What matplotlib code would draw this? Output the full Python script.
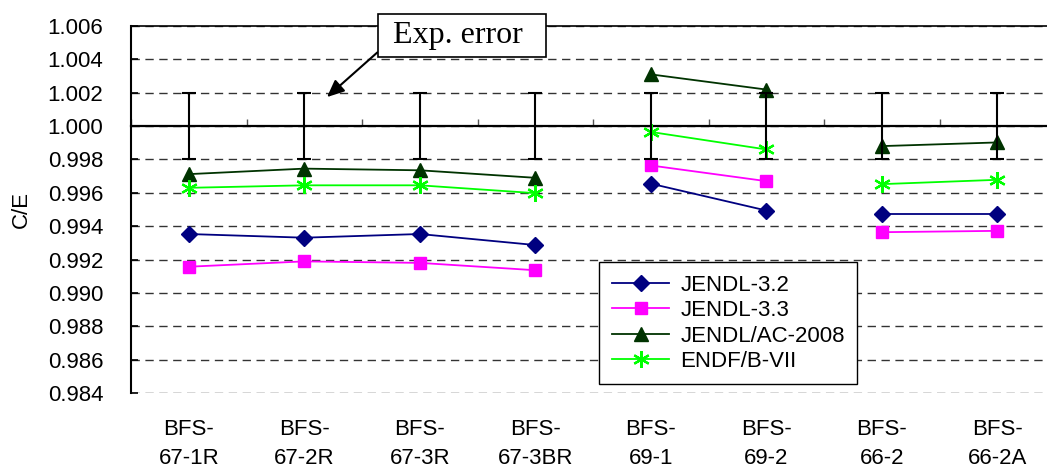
import numpy as np
import matplotlib.pyplot as plt

plt.rcParams['font.family'] = ['Liberation Sans', 'DejaVu Sans']

cases = ['BFS-\n67-1R', 'BFS-\n67-2R', 'BFS-\n67-3R', 'BFS-\n67-3BR',
         'BFS-\n69-1', 'BFS-\n69-2', 'BFS-\n66-2', 'BFS-\n66-2A']

# C/E values
jendl32 = [0.99353, 0.99331, 0.99353, 0.99287, 0.99655, 0.99494, 0.99472, 0.99472]
jendl33 = [0.99157, 0.99189, 0.99180, 0.99136, 0.99764, 0.99670, 0.99364, 0.99372]
jendlac = [0.99712, 0.99745, 0.99735, 0.99690, 1.00310, 1.00219, 0.99880, 0.99902]
endfb7 = [0.99630, 0.99645, 0.99645, 0.99598, 0.99965, 0.99860, 0.99652, 0.99678]

exp_value = [1.0] * 8
exp_err = [0.002] * 8

# the three groups of experiments are not joined
groups = [(0, 4), (4, 6), (6, 8)]

fig = plt.figure(figsize=(10.47, 4.71), dpi=100)
ax = fig.add_axes([131/1047, 1 - 393/471, 924/1047, 367/471])

x = np.arange(len(cases))

series = [
    ('JENDL-3.2', jendl32, dict(color='#000080', marker='D', ms=8)),
    ('JENDL-3.3', jendl33, dict(color='#FF00FF', marker='s', ms=8)),
    ('JENDL/AC-2008', jendlac, dict(color='#003300', marker='^', ms=10)),
    ('ENDF/B-VII', endfb7, dict(color='#00FF00', marker=(6, 2, 0), ms=12, mew=1.6)),
]
for name, vals, st in series:
    for k, (a, b) in enumerate(groups):
        ax.plot(x[a:b], vals[a:b], lw=1.3, label=name if k == 0 else None,
                zorder=3, **st)

# experimental uncertainty
ax.errorbar(x, exp_value, yerr=exp_err, fmt='none', ecolor='black',
            elinewidth=1.5, capsize=4.8, capthick=1.5, zorder=4)

ax.set_xlim(-0.5, 7.5)
ax.set_ylim(0.984, 1.006)
ax.set_yticks(np.arange(0.984, 1.0061, 0.002))
ax.set_yticklabels(['%.3f' % v for v in np.arange(0.984, 1.0061, 0.002)])
ax.yaxis.grid(True, color='#333333', lw=1, linestyle=(0, (6, 4)))
ax.set_axisbelow(True)
ax.tick_params(axis='y', direction='in', length=5, width=1.2, pad=20,
               labelsize=16)
ax.set_ylabel('C/E', fontsize=16, labelpad=11)

# category axis crosses at C/E = 1
ax.spines['bottom'].set_position(('data', 1.0))
ax.spines['bottom'].set_linewidth(1.6)
ax.spines['right'].set_visible(False)
ax.spines['left'].set_linewidth(1.5)
ax.spines['top'].set_linewidth(1.2)
ax.set_xticks(np.arange(-0.5, 7.6, 1.0))
ax.tick_params(axis='x', direction='in', length=5, width=1, color='#555555',
               labelbottom=False)

sec = ax.secondary_xaxis(0)
sec.set_xticks(x)
sec.set_xticklabels(cases, fontsize=16, linespacing=1.5)
sec.tick_params(length=0, pad=19)
sec.spines['bottom'].set_visible(False)

leg = ax.legend(loc='lower left', bbox_to_anchor=(0.507, 0.024), fontsize=16,
                handlelength=2.6, handletextpad=0.5, labelspacing=0.2,
                borderpad=0.55, borderaxespad=0, fancybox=False,
                edgecolor='black', framealpha=1)
leg.get_frame().set_linewidth(1.0)

ax.annotate(' Exp. error  ', xy=(1.197, 1.00174), xytext=(0.358, 0.974),
            textcoords='axes fraction', ha='center', va='center',
            fontsize=23, family='Liberation Serif',
            bbox=dict(boxstyle='square,pad=0.22', fc='white', ec='black', lw=1.2),
            arrowprops=dict(arrowstyle='-|>,head_length=0.45,head_width=0.2',
                            color='black', lw=1.5, relpos=(0, 0.15),
                            shrinkA=0, shrinkB=0),
            zorder=5)

fig.savefig('out.png', dpi=100)
